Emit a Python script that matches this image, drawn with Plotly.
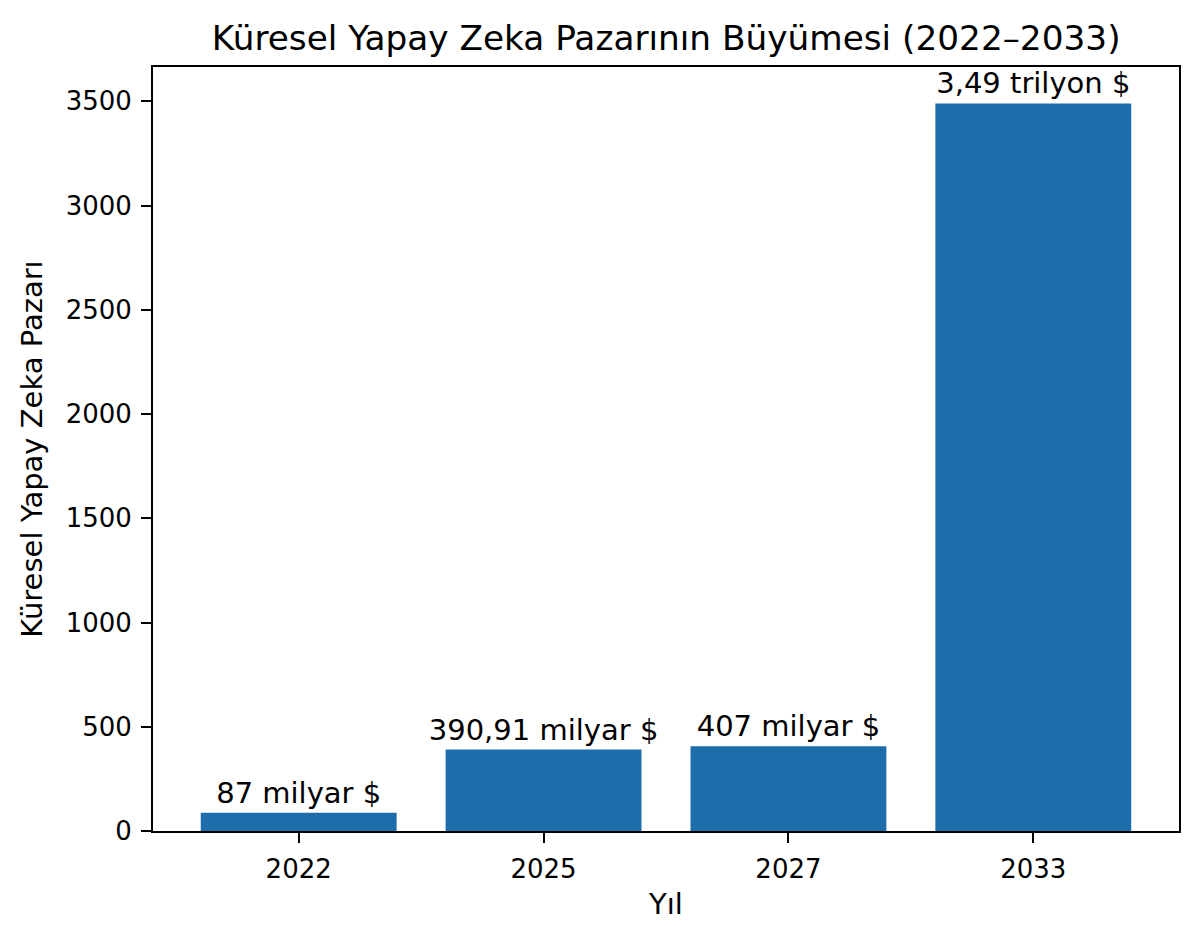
import plotly.graph_objects as go

# veriler
years = ['2022', '2025', '2027', '2033']
market = [87, 390.91, 407, 3490]
labels = ['87 milyar $', '390,91 milyar $', '407 milyar $', '3,49 trilyon $']

bar_color = '#1e6dab'
font_name = 'DejaVu Sans'

fig = go.Figure()

fig.add_trace(
    go.Bar(x=years,
           y=market,
           text=labels,
           textposition='outside',
           constraintext='none',
           textfont=dict(family=font_name, size=29, color='black'),
           cliponaxis=False,
           width=0.8,
           marker=dict(color=bar_color, line=dict(width=0)),
           )
)

fig.update_layout(
    width=1200, height=941,
    margin=dict(l=145, r=29, t=59, b=118),
    paper_bgcolor='white', plot_bgcolor='white',
    font=dict(family=font_name, size=26, color='black'),
    title=dict(text='Küresel Yapay Zeka Pazarının Büyümesi (2022–2033)',
               x=0.5485, xanchor='center', y=0.968, yanchor='middle',
               font=dict(size=34.3, color='black')),
    showlegend=False,
)

fig.update_xaxes(
    type='category', range=[-0.595, 3.595],
    showline=True, linecolor='black', linewidth=2, mirror=True,
    ticks='outside', ticklen=10, tickwidth=2, tickcolor='black',
    ticklabelstandoff=4,
    showgrid=False, zeroline=False,
    title=dict(text='Yıl', font=dict(size=29), standoff=10),
)

fig.update_yaxes(
    range=[0, 3664.5], tickvals=[0, 500, 1000, 1500, 2000, 2500, 3000, 3500],
    showline=True, linecolor='black', linewidth=2, mirror=True,
    ticks='outside', ticklen=10, tickwidth=2, tickcolor='black',
    ticklabelstandoff=4,
    showgrid=False, zeroline=False,
    title=dict(text='Küresel Yapay Zeka Pazarı', font=dict(size=29), standoff=14),
)

fig.write_html("out.html")
